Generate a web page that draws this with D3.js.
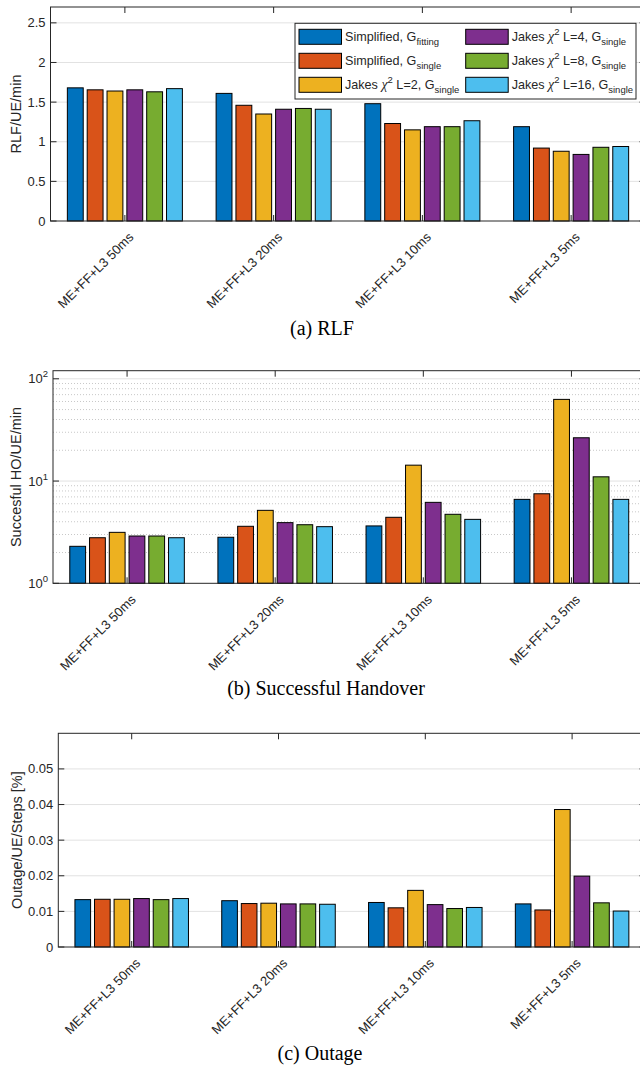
<!DOCTYPE html>
<html>
<head>
<meta charset="utf-8">
<script src="https://cdn.jsdelivr.net/npm/d3@7"></script>
<style>
  body { margin: 0; background: #fff; }
  svg { display: block; }
  text { font-family: "Liberation Sans", Arial, sans-serif; fill: #262626; }
</style>
</head>
<body>
<div id="chart"></div>
<script>
// Categories (x axis)
const categories = ['ME+FF+L3 50ms', 'ME+FF+L3 20ms', 'ME+FF+L3 10ms', 'ME+FF+L3 5ms'];

// Series order / colours
const seriesKeys = ['simpFit', 'simpSingle', 'jakes2', 'jakes4', 'jakes8', 'jakes16'];
const seriesColors = ['#0072BD', '#D95319', '#EDB120', '#7E2F8E', '#77AC30', '#4DBEEE'];

// Legend labels
const legendLabels = [
    { kind: 'simp', sub: 'fitting' },
    { kind: 'simp', sub: 'single' },
    { kind: 'jakes', L: 2, sub: 'single' },
    { kind: 'jakes', L: 4, sub: 'single' },
    { kind: 'jakes', L: 8, sub: 'single' },
    { kind: 'jakes', L: 16, sub: 'single' }
];

// (a) RLF per series, one value per category
const rlfSimpFit    = [1.68, 1.61, 1.48, 1.19];
const rlfSimpSingle = [1.655, 1.46, 1.23, 0.92];
const rlfJakes2     = [1.64, 1.35, 1.15, 0.88];
const rlfJakes4     = [1.655, 1.41, 1.19, 0.84];
const rlfJakes8     = [1.63, 1.42, 1.19, 0.93];
const rlfJakes16    = [1.67, 1.41, 1.265, 0.94];

// (b) Successful handover
const hoSimpFit    = [2.30, 2.82, 3.64, 6.62];
const hoSimpSingle = [2.79, 3.61, 4.42, 7.51];
const hoJakes2     = [3.15, 5.17, 14.3, 62.9];
const hoJakes4     = [2.90, 3.92, 6.19, 26.5];
const hoJakes8     = [2.90, 3.74, 4.73, 11.0];
const hoJakes16    = [2.79, 3.58, 4.22, 6.62];

// (c) Outage
const outSimpFit    = [0.0133, 0.0130, 0.0125, 0.0121];
const outSimpSingle = [0.0134, 0.0122, 0.0110, 0.0104];
const outJakes2     = [0.0134, 0.0123, 0.0159, 0.0386];
const outJakes4     = [0.0136, 0.0121, 0.0119, 0.0199];
const outJakes8     = [0.0133, 0.0121, 0.0108, 0.0124];
const outJakes16    = [0.0136, 0.0120, 0.0111, 0.0101];

// Tick values
const rlfTicks = [0, 0.5, 1, 1.5, 2, 2.5];
const hoTicks = [1, 10, 100];
const outTicks = [0, 0.01, 0.02, 0.03, 0.04, 0.05];

const width = 640, height = 1069;
const axisColor = '#262626';

const svg = d3.select('#chart')
    .append('svg')
    .attr('width', width)
    .attr('height', height);

// build rows: one object per category with a value per series
function buildRows(seriesArrays) {
    return categories.map((c, i) => {
        const row = { category: c };
        seriesKeys.forEach((k, j) => { row[k] = seriesArrays[j][i]; });
        return row;
    });
}

const panels = [
    {
        rows: buildRows([rlfSimpFit, rlfSimpSingle, rlfJakes2, rlfJakes4, rlfJakes8, rlfJakes16]),
        log: false, domain: [0, 2.7], ticks: rlfTicks,
        top: 7, bottom: 221, left: 50.5, labelX: 20.5,
        yLabel: 'RLF/UE/min', caption: '(a) RLF', captionX: 322, captionY: 335, legend: true
    },
    {
        rows: buildRows([hoSimpFit, hoSimpSingle, hoJakes2, hoJakes4, hoJakes8, hoJakes16]),
        log: true, domain: [1, 120], ticks: hoTicks,
        top: 370.7, bottom: 583.3, left: 53, labelX: 21,
        yLabel: 'Succesful HO/UE/min', caption: '(b) Successful Handover', captionX: 326, captionY: 695
    },
    {
        rows: buildRows([outSimpFit, outSimpSingle, outJakes2, outJakes4, outJakes8, outJakes16]),
        log: false, domain: [0, 0.06], ticks: outTicks,
        top: 733.3, bottom: 947, left: 58.3, labelX: 22,
        yLabel: 'Outage/UE/Steps [%]', caption: '(c) Outage', captionX: 320, captionY: 1060
    }
];

const plotRight = 645.5;   // axes box runs past the picture's right edge
const tickLen = 6;

panels.forEach(p => drawPanel(p));

function drawPanel(p) {
    const g = svg.append('g');

    const x0 = d3.scaleBand()
        .domain(categories)
        .range([p.left, plotRight])
        .paddingInner(0.2)
        .paddingOuter(0.1);

    const x1 = d3.scaleBand()
        .domain(seriesKeys)
        .range([0, x0.bandwidth()])
        .paddingInner(0.2)
        .paddingOuter(0.1);

    const y = p.log
        ? d3.scaleLog().domain(p.domain).range([p.bottom, p.top])
        : d3.scaleLinear().domain(p.domain).range([p.bottom, p.top]);

    const color = d3.scaleOrdinal().domain(seriesKeys).range(seriesColors);

    // minor grid for log axis
    if (p.log) {
        const minor = [];
        [1, 10].forEach(dec => {
            for (let m = 2; m <= 9; m++) minor.push(dec * m);
        });
        g.append('g').selectAll('line')
            .data(minor)
            .join('line')
            .attr('x1', p.left).attr('x2', plotRight)
            .attr('y1', d => y(d)).attr('y2', d => y(d))
            .style('stroke', '#c8c8c8')
            .style('stroke-width', 1)
            .style('stroke-dasharray', '1,2');
    }

    // major grid
    g.append('g').selectAll('line')
        .data(p.ticks.filter(t => t !== p.domain[0]))
        .join('line')
        .attr('x1', p.left).attr('x2', plotRight)
        .attr('y1', d => y(d)).attr('y2', d => y(d))
        .style('stroke', '#e2e2e2')
        .style('stroke-width', 1);

    // bars
    const groups = g.append('g').selectAll('g')
        .data(p.rows)
        .join('g')
        .attr('transform', d => `translate(${x0(d.category)},0)`);

    groups.selectAll('rect')
        .data(d => seriesKeys.map(k => ({ key: k, value: d[k] })))
        .join('rect')
        .attr('x', d => x1(d.key))
        .attr('width', x1.bandwidth())
        .attr('y', d => y(d.value))
        .attr('height', d => y(p.domain[0]) - y(d.value))
        .style('fill', d => color(d.key))
        .style('stroke', '#000')
        .style('stroke-width', 1);

    // axes box
    g.append('rect')
        .attr('x', p.left).attr('y', p.top)
        .attr('width', plotRight - p.left)
        .attr('height', p.bottom - p.top)
        .style('fill', 'none')
        .style('stroke', axisColor)
        .style('stroke-width', 1);

    // y ticks (left and right, pointing inwards)
    const yt = g.append('g');
    p.ticks.forEach(t => {
        yt.append('line')
            .attr('x1', p.left).attr('x2', p.left + tickLen)
            .attr('y1', y(t)).attr('y2', y(t))
            .style('stroke', axisColor);
        yt.append('line')
            .attr('x1', plotRight).attr('x2', plotRight - tickLen)
            .attr('y1', y(t)).attr('y2', y(t))
            .style('stroke', axisColor);
    });

    // x ticks (top and bottom, pointing inwards)
    categories.forEach(c => {
        const cx = x0(c) + x0.bandwidth() / 2;
        yt.append('line')
            .attr('x1', cx).attr('x2', cx)
            .attr('y1', p.top).attr('y2', p.top + tickLen)
            .style('stroke', axisColor);
        yt.append('line')
            .attr('x1', cx).attr('x2', cx)
            .attr('y1', p.bottom).attr('y2', p.bottom - tickLen)
            .style('stroke', axisColor);
    });

    // y tick labels
    const fmt = d3.format('~g');
    p.ticks.forEach(t => {
        const txt = g.append('text')
            .attr('x', p.left - 5)
            .attr('y', y(t) + 4.5)
            .attr('text-anchor', 'end')
            .style('font-size', '13px');
        if (p.log) {
            txt.append('tspan').text('10');
            txt.append('tspan')
                .attr('dy', -6)
                .style('font-size', '9.5px')
                .text(Math.round(Math.log10(t)));
        } else {
            txt.text(fmt(t));
        }
    });

    // x tick labels, rotated 45 degrees
    categories.forEach(c => {
        const cx = x0(c) + x0.bandwidth() / 2 + 9.5;
        const cy = p.bottom + 17;
        g.append('text')
            .attr('transform', `translate(${cx},${cy}) rotate(-45)`)
            .attr('text-anchor', 'end')
            .style('font-size', '13px')
            .text(c);
    });

    // y axis label
    g.append('text')
        .attr('transform', `translate(${p.labelX},${(p.top + p.bottom) / 2}) rotate(-90)`)
        .attr('text-anchor', 'middle')
        .style('font-size', '14.5px')
        .text(p.yLabel);

    // caption
    svg.append('text')
        .attr('x', p.captionX)
        .attr('y', p.captionY)
        .attr('text-anchor', 'middle')
        .style('font-family', '"Liberation Serif", "Times New Roman", serif')
        .style('font-size', '20px')
        .style('fill', '#000')
        .text(p.caption);

    if (p.legend) drawLegend();
}

function drawLegend() {
    const lg = svg.append('g');
    lg.append('rect')
        .attr('x', 295).attr('y', 23.3)
        .attr('width', 341).attr('height', 75.7)
        .style('fill', '#fff')
        .style('stroke', axisColor)
        .style('stroke-width', 1);

    const colX = [299, 465.7];
    const rowY = [36.8, 60.8, 84.8];

    legendLabels.forEach((lab, i) => {
        const col = Math.floor(i / 3), row = i % 3;
        const sx = colX[col], sy = rowY[row];
        lg.append('rect')
            .attr('x', sx).attr('y', sy - 7.5)
            .attr('width', 42.5).attr('height', 15)
            .style('fill', seriesColors[i])
            .style('stroke', '#000')
            .style('stroke-width', 1);

        const t = lg.append('text')
            .attr('x', sx + 46)
            .attr('y', sy + 4.5)
            .style('font-size', '12.6px');
        if (lab.kind === 'simp') {
            t.append('tspan').text('Simplified, G');
        } else {
            t.append('tspan').text('Jakes ');
            t.append('tspan')
                .style('font-family', '"Liberation Serif", "Times New Roman", serif')
                .style('font-style', 'italic')
                .style('font-size', '14px')
                .text('\u03C7');
            t.append('tspan').attr('dy', -6).style('font-size', '9.5px').text('2');
            t.append('tspan').attr('dy', 6).text(` L=${lab.L}, G`);
        }
        t.append('tspan').attr('dy', 4).style('font-size', '9.5px').text(lab.sub);
    });
}
</script>
</body>
</html>
